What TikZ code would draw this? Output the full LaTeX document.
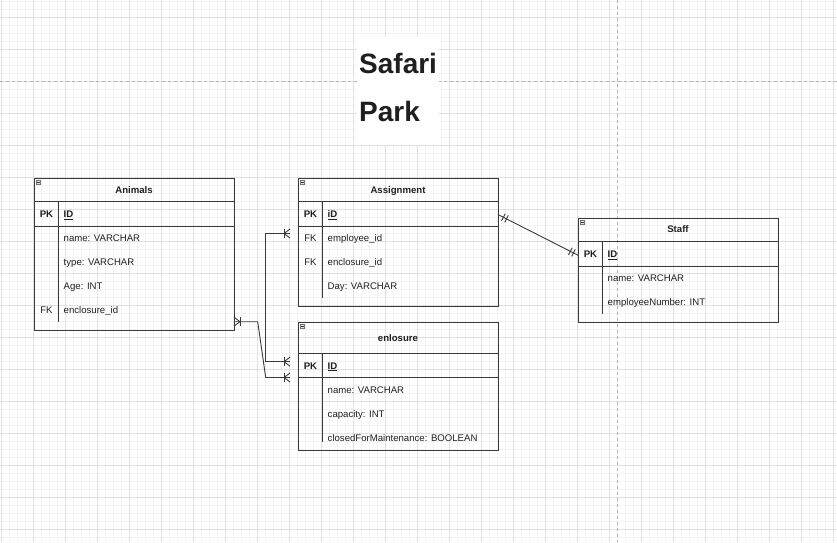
\documentclass[tikz,border=0pt]{standalone}
\usepackage{fontspec}
\setmainfont{Liberation Sans}
\usetikzlibrary{decorations.markings}
\newcommand{\rowfont}{\fontsize{9.6}{11.5}\selectfont}
\newcommand{\titlefont}{\fontsize{28}{33}\selectfont\bfseries}
\definecolor{erink}{HTML}{1F1F1F}
\definecolor{erline}{HTML}{3A3A3A}
\definecolor{gridminor}{HTML}{F3F3F3}
\definecolor{gridmajor}{HTML}{E0E0E0}
\definecolor{pagebreak}{HTML}{B4B4B4}
\definecolor{iconfill}{HTML}{E2E2E2}

\begin{document}
\begin{tikzpicture}[
  x=1pt,
  y=-1pt,
  every node/.style={font=\rowfont, text=erink, inner sep=0pt},
  minorgrid/.style={gridminor, line width=0.6pt},
  majorgrid/.style={gridmajor, line width=0.7pt},
  pagerule/.style={pagebreak, line width=0.7pt, dash pattern=on 3pt off 3pt},
  table/.style={draw=erline, line width=0.9pt, anchor=north west, minimum width=200pt},
  sep/.style={erline, line width=0.9pt},
  icon/.style={draw=erline!70, fill=iconfill, line width=0.5pt},
  caption/.style={anchor=base, font=\rowfont\bfseries},
  keytag/.style={anchor=base},
  pktag/.style={anchor=base, font=\rowfont\bfseries},
  field/.style={anchor=base west},
  idfield/.style={anchor=base west, font=\rowfont\bfseries},
  rel/.style={erline, line width=0.9pt},
  crowstart/.style={postaction={decorate, decoration={markings,
      mark=at position 6pt with {\draw[rel] (0pt,-4.5pt) -- (0pt,4.5pt);
        \draw[rel] (-6pt,-4.5pt) -- (0pt,0pt) -- (-6pt,4.5pt);}}}},
  crowend/.style={postaction={decorate, decoration={markings,
      mark=at position -6pt with {\draw[rel] (0pt,-4.5pt) -- (0pt,4.5pt);
        \draw[rel] (6pt,-4.5pt) -- (0pt,0pt) -- (6pt,4.5pt);}}}},
  onebars/.style={postaction={decorate, decoration={markings,
      mark=at position 5pt with {\draw[rel] (0pt,-4pt) -- (0pt,4pt);},
      mark=at position 8.5pt with {\draw[rel] (0pt,-4pt) -- (0pt,4pt);},
      mark=at position -5pt with {\draw[rel] (0pt,-4pt) -- (0pt,4pt);},
      mark=at position -8.5pt with {\draw[rel] (0pt,-4pt) -- (0pt,4pt);}}}}
]
  \useasboundingbox (0,0) rectangle (837,542);

  % ---- canvas grid ----
  \foreach \gx in {1,9,...,833} \draw[minorgrid] (\gx,0) -- (\gx,542);
  \foreach \gy in {1,9,...,537} \draw[minorgrid] (0,\gy) -- (837,\gy);
  \foreach \gx in {1,33,...,833} \draw[majorgrid] (\gx,0) -- (\gx,542);
  \foreach \gy in {17,49,...,529} \draw[majorgrid] (0,\gy) -- (837,\gy);
  \draw[pagerule] (0,81) -- (837,81);
  \draw[pagerule] (617.5,0) -- (617.5,542);

  % ---- title ----
  \node[fill=white, minimum width=82pt, minimum height=108pt, anchor=north west]
    (title-box) at (357,37) {};
  \node[anchor=base west, font=\titlefont] (title-top) at (359,73.3) {Safari};
  \node[anchor=base west, font=\titlefont] (title-bottom) at (359,121.7) {Park};

  % ---- Animals ----
  \node[table, minimum height=152pt] (animals) at (34,177.5) {};
  \draw[icon] (36,180) rectangle (40.5,184.5);
  \draw[sep] (37,182.25) -- (39.5,182.25);
  \draw[sep] (34,201.5) -- (234,201.5);
  \draw[sep] (34,226) -- (234,226);
  \draw[sep] (58,201.5) -- (58,322);
  \node[caption] (animals-title) at (134,193.5) {Animals};
  \node[pktag] (animals-pk) at (46.5,217.5) {PK};
  \node[idfield] (animals-id) at (63.5,217.5) {\underline{ID}};
  \node[field] (animals-name) at (63.5,241.5) {name: VARCHAR};
  \node[field] (animals-type) at (63.5,265.5) {type: VARCHAR};
  \node[field] (animals-age) at (63.5,289.5) {Age: INT};
  \node[keytag] (animals-fk) at (46.5,313.5) {FK};
  \node[field] (animals-enc) at (63.5,313.5) {enclosure\_id};

  % ---- Assignment ----
  \node[table, minimum height=128pt] (assignment) at (298,177.5) {};
  \draw[icon] (300,180) rectangle (304.5,184.5);
  \draw[sep] (301,182.25) -- (303.5,182.25);
  \draw[sep] (298,201.5) -- (498,201.5);
  \draw[sep] (298,226) -- (498,226);
  \draw[sep] (322,201.5) -- (322,298);
  \node[caption] (asg-title) at (398,193.5) {Assignment};
  \node[pktag] (asg-pk) at (310.5,217.5) {PK};
  \node[idfield] (asg-id) at (327.5,217.5) {\underline{iD}};
  \node[keytag] (asg-fk1) at (310.5,241.5) {FK};
  \node[field] (asg-emp) at (327.5,241.5) {employee\_id};
  \node[keytag] (asg-fk2) at (310.5,265.5) {FK};
  \node[field] (asg-enc) at (327.5,265.5) {enclosure\_id};
  \node[field] (asg-day) at (327.5,289.5) {Day: VARCHAR};

  % ---- Staff ----
  \node[table, minimum height=104pt] (staff) at (578,217.5) {};
  \draw[icon] (580,220) rectangle (584.5,224.5);
  \draw[sep] (581,222.25) -- (583.5,222.25);
  \draw[sep] (578,241.5) -- (778,241.5);
  \draw[sep] (578,266) -- (778,266);
  \draw[sep] (602,241.5) -- (602,314);
  \node[caption] (staff-title) at (678,232.8) {Staff};
  \node[pktag] (staff-pk) at (590.5,257.5) {PK};
  \node[idfield] (staff-id) at (607.5,257.5) {\underline{ID}};
  \node[field] (staff-name) at (607.5,281.5) {name: VARCHAR};
  \node[field] (staff-num) at (607.5,305.5) {employeeNumber: INT};

  % ---- enclosure (title printed as "enlosure") ----
  \node[table, minimum height=128.5pt] (enclosure) at (298,321.5) {};
  \draw[icon] (300,324) rectangle (304.5,328.5);
  \draw[sep] (301,326.25) -- (303.5,326.25);
  \draw[sep] (298,353.5) -- (498,353.5);
  \draw[sep] (298,377.5) -- (498,377.5);
  \draw[sep] (322,353.5) -- (322,442);
  \node[caption] (enc-title) at (398,341.8) {enlosure};
  \node[pktag] (enc-pk) at (310.5,369) {PK};
  \node[idfield] (enc-id) at (327.5,369) {\underline{ID}};
  \node[field] (enc-name) at (327.5,393.5) {name: VARCHAR};
  \node[field] (enc-cap) at (327.5,417.5) {capacity: INT};
  \node[field] (enc-closed) at (327.5,441.5) {closedForMaintenance: BOOLEAN};

  % ---- relationship end points ----
  \coordinate (asg-in) at (290,233.5);
  \coordinate (asg-bend) at (265.7,300);
  \coordinate (enc-in-upper) at (290,361.7);
  \coordinate (animals-out) at (234,321.7);
  \coordinate (animals-bend) at (265.7,377.5);
  \coordinate (enc-in-lower) at (290,377.5);

  % ---- relationships ----
  \draw[rel, onebars] (assignment.east |- asg-id) -- (staff.west |- staff-id);
  \draw[rel, crowstart, crowend] (asg-in) -| (asg-bend) |- (enc-in-upper);
  \draw[rel, crowstart, crowend] (animals-out) -- ++(23.7,0) -- (animals-bend)
    -- (enc-in-lower);
\end{tikzpicture}
\end{document}
